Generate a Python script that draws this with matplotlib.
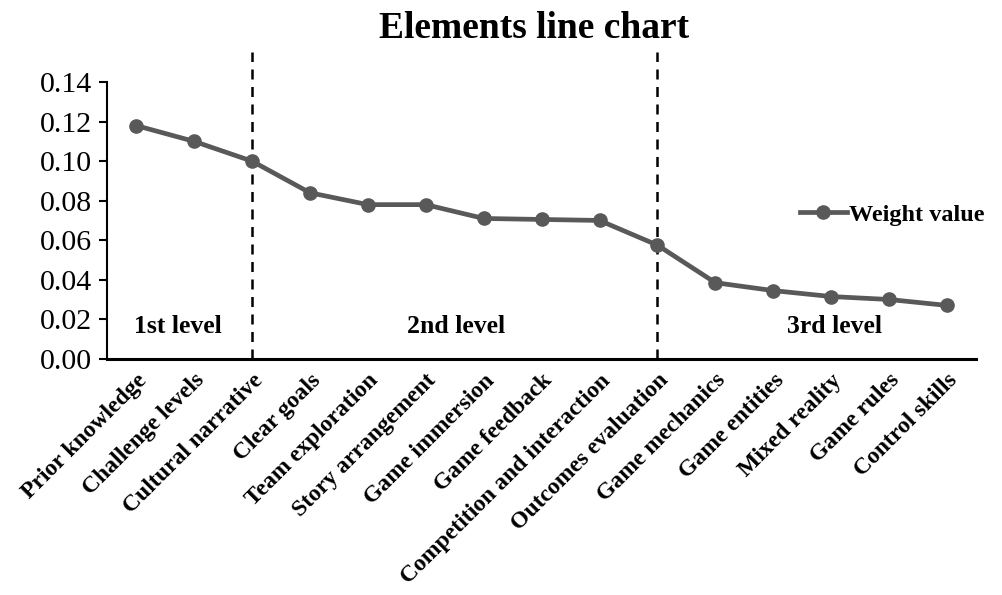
import matplotlib.pyplot as plt

plt.rcParams['font.family'] = ['Liberation Serif', 'DejaVu Serif']

# data
categories = ['Prior knowledge', 'Challenge levels', 'Cultural narrative', 'Clear goals',
              'Team exploration', 'Story arrangement', 'Game immersion', 'Game feedback',
              'Competition and interaction', 'Outcomes evaluation', 'Game mechanics',
              'Game entities', 'Mixed reality', 'Game rules', 'Control skills']
weights = [0.118, 0.110, 0.100, 0.084, 0.078, 0.078, 0.071, 0.0705, 0.070,
           0.0575, 0.0385, 0.0345, 0.0315, 0.030, 0.027]
yticks = [0.00, 0.02, 0.04, 0.06, 0.08, 0.10, 0.12, 0.14]
split_idx = [2, 9]
level_names = ['1st level', '2nd level', '3rd level']
level_x = [0.72, 5.53, 12.05]

fig = plt.figure(figsize=(10.03, 5.95), dpi=100)
ax = fig.add_axes([0.107, 0.397, 0.866, 0.465])

x = list(range(len(categories)))
ax.plot(x, weights, color='#595959', linewidth=3.4, marker='o', markersize=9.5,
        label='Weight value', zorder=3)

# level separators
for i in split_idx:
    ax.plot([i, i], [0, 0.155], color='black', linestyle=(0, (4, 3)),
            linewidth=1.8, clip_on=False, zorder=2)

for name, lx in zip(level_names, level_x):
    ax.text(lx, 0.0165, name, ha='center', va='center', fontsize=18.5, fontweight='bold')

ax.set_xlim(-0.5, len(categories) - 0.5)
ax.set_ylim(0, 0.14)
ax.set_yticks(yticks)
ax.set_yticklabels([f'{v:.2f}' for v in yticks], fontsize=21.5)
ax.set_xticks(x)
ax.set_xticklabels(categories, rotation=45, ha='right', rotation_mode='anchor',
                   fontsize=17, fontweight='bold')
ax.tick_params(axis='x', length=0, pad=8)
ax.tick_params(axis='y', length=6, width=1.5, direction='out', pad=5)

for s in ['top', 'right']:
    ax.spines[s].set_visible(False)
ax.spines['left'].set_linewidth(1.5)
ax.spines['bottom'].set_linewidth(2.2)

ax.legend(loc='center right', bbox_to_anchor=(1.035, 0.52), frameon=False,
          prop={'weight': 'bold', 'size': 17.5, 'family': 'Liberation Serif'},
          handlelength=1.9, handletextpad=0.1)

fig.suptitle('Elements line chart', x=0.532, y=0.982, fontsize=27, fontweight='bold')

fig.savefig('out.png', dpi=100)
